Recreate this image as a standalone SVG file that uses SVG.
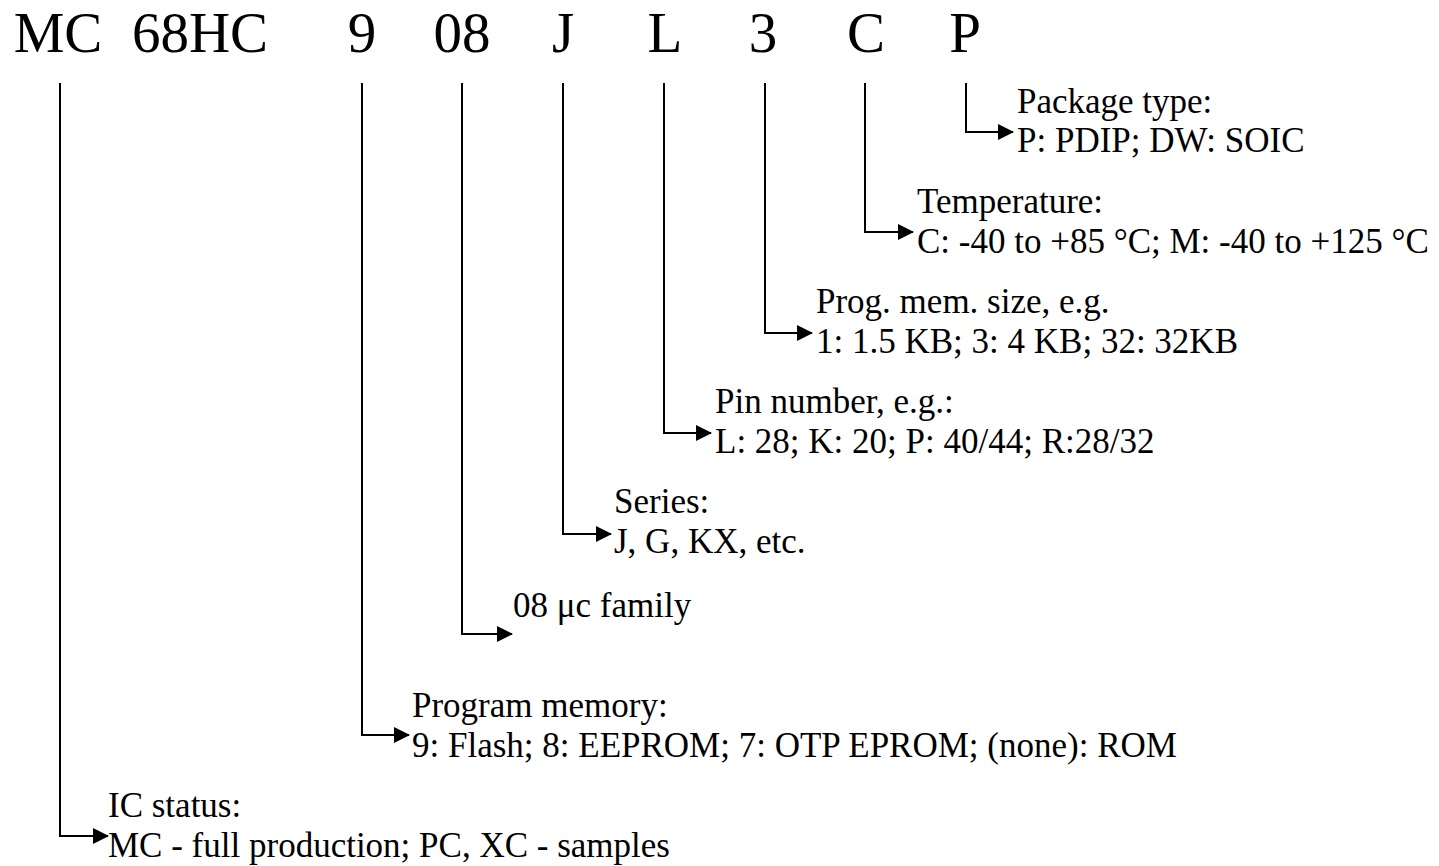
<svg xmlns="http://www.w3.org/2000/svg" width="1439" height="866" viewBox="0 0 1439 866">
<defs>
<style>
text{font-family:"Liberation Serif","Times New Roman",serif;fill:#000}
.top{font-size:57px;text-anchor:middle}
.lbl{font-size:35px}
.conn path{fill:none;stroke:#000;stroke-width:2}
</style>
<marker id="ah" markerWidth="16" markerHeight="16" viewBox="0 0 16 16" refX="15" refY="8" orient="auto" markerUnits="userSpaceOnUse">
<path d="M0,0 L16,8 L0,16 Z" fill="#000"/>
</marker>
</defs>
<rect width="1439" height="866" fill="#fff"/>
<g id="code">
<text class="top" x="58" y="52">MC</text>
<text class="top" x="200" y="52">68HC</text>
<text class="top" x="362" y="52">9</text>
<text class="top" x="462" y="52">08</text>
<text class="top" x="563" y="52">J</text>
<text class="top" x="665" y="52">L</text>
<text class="top" x="763" y="52">3</text>
<text class="top" x="866" y="52">C</text>
<text class="top" x="965" y="52">P</text>
</g>
<g class="conn" id="connectors">
<path d="M966,83 V132 H1013" marker-end="url(#ah)"/>
<path d="M865,83 V232 H913" marker-end="url(#ah)"/>
<path d="M765,83 V333 H812" marker-end="url(#ah)"/>
<path d="M664,83 V433 H711" marker-end="url(#ah)"/>
<path d="M563,83 V534 H611" marker-end="url(#ah)"/>
<path d="M462,83 V634 H512" marker-end="url(#ah)"/>
<path d="M362,83 V735 H409" marker-end="url(#ah)"/>
<path d="M60,83 V836 H108" marker-end="url(#ah)"/>
</g>
<g id="package">
<text class="lbl" x="1017" y="113">Package type:</text>
<text class="lbl" x="1017" y="152">P: PDIP; DW: SOIC</text>
</g>
<g id="temperature">
<text class="lbl" x="917" y="213">Temperature:</text>
<text class="lbl" x="917" y="253">C: -40 to +85 °C; M: -40 to +125 °C</text>
</g>
<g id="progmemsize">
<text class="lbl" x="816" y="313">Prog. mem. size, e.g.</text>
<text class="lbl" x="816" y="353">1: 1.5 KB; 3: 4 KB; 32: 32KB</text>
</g>
<g id="pins">
<text class="lbl" x="715" y="413">Pin number, e.g.:</text>
<text class="lbl" x="715" y="453">L: 28; K: 20; P: 40/44; R:28/32</text>
</g>
<g id="series">
<text class="lbl" x="614" y="513">Series:</text>
<text class="lbl" x="614" y="553">J, G, KX, etc.</text>
</g>
<g id="family">
<text class="lbl" x="513" y="617">08 μc family</text>
</g>
<g id="progmem">
<text class="lbl" x="412" y="717">Program memory:</text>
<text class="lbl" x="412" y="757">9: Flash; 8: EEPROM; 7: OTP EPROM; (none): ROM</text>
</g>
<g id="status">
<text class="lbl" x="108" y="817">IC status:</text>
<text class="lbl" x="108" y="857">MC - full production; PC, XC - samples</text>
</g>
</svg>
